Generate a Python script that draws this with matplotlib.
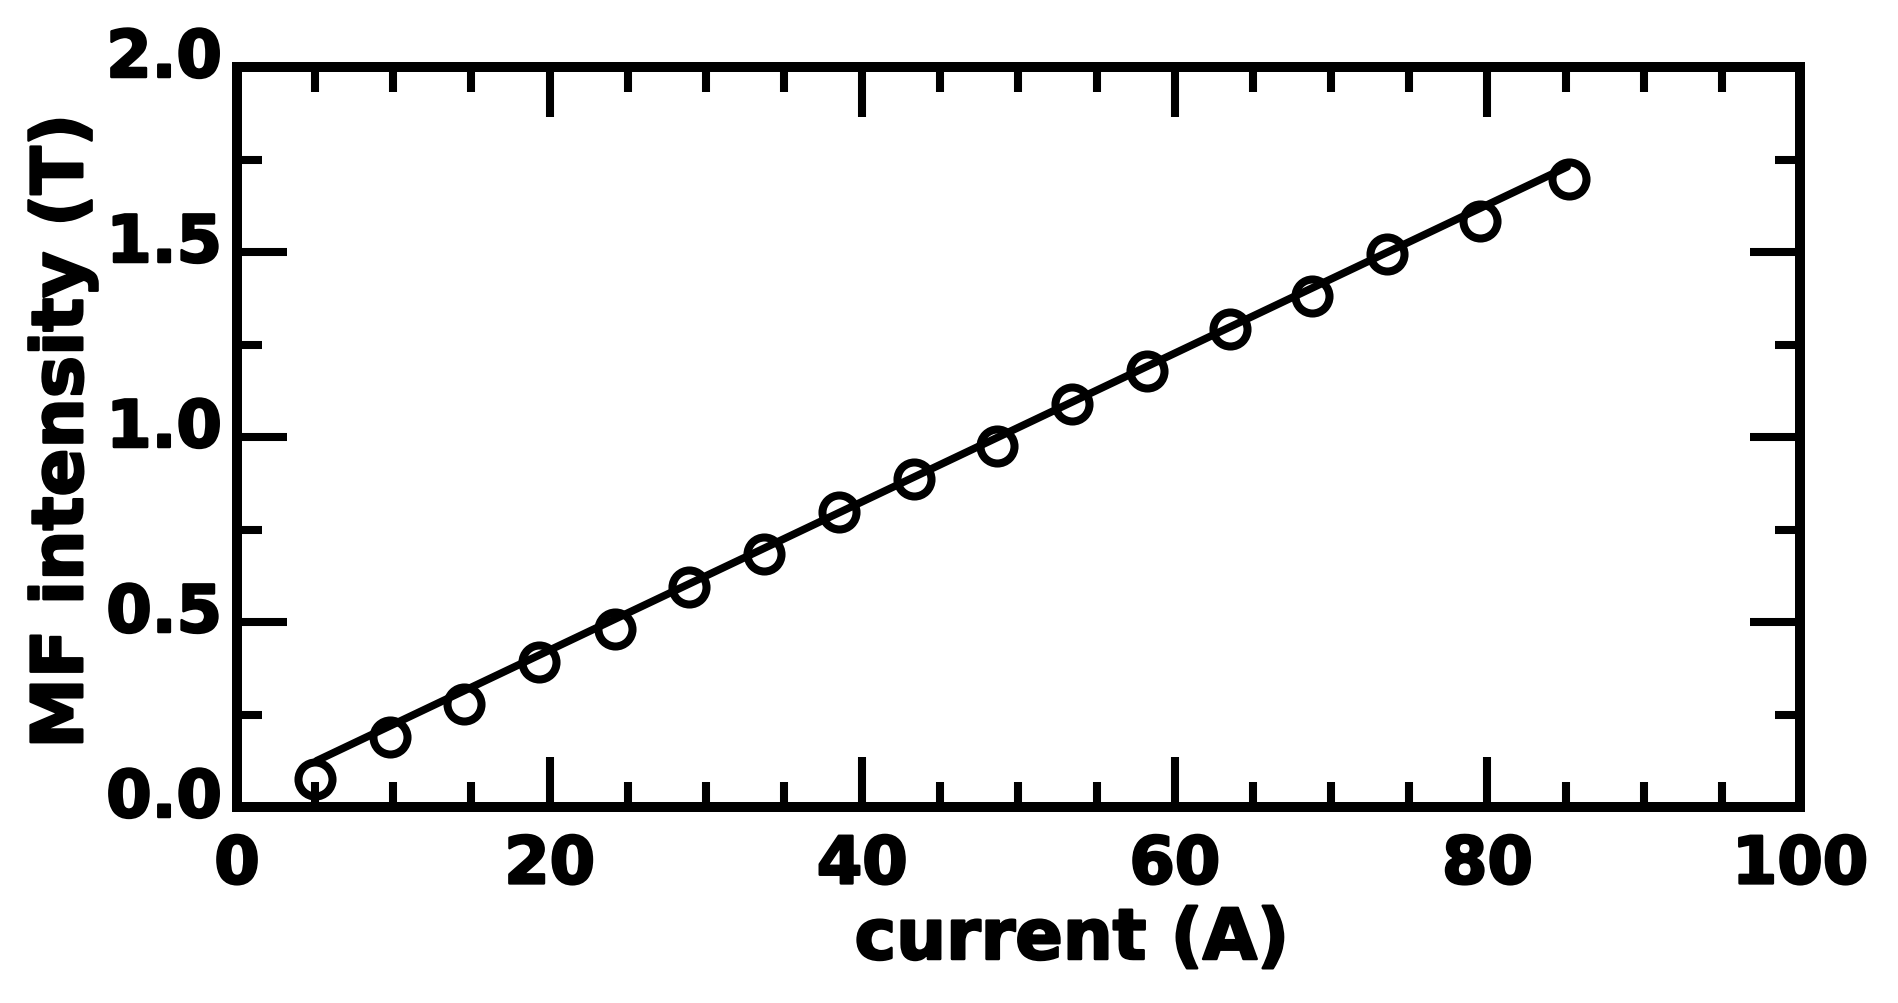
import matplotlib
matplotlib.use("Agg")
import matplotlib.pyplot as plt
import matplotlib.transforms as mtransforms
import matplotlib.patheffects as pe
from matplotlib.ticker import MultipleLocator

# ---- data ----
current_A = [5.0, 9.8, 14.5, 19.3, 24.2, 28.9, 33.7, 38.5, 43.3,
             48.6, 53.4, 58.2, 63.5, 68.8, 73.6, 79.5, 85.2]
mf_T = [0.076, 0.188, 0.278, 0.391, 0.481, 0.594, 0.684, 0.796, 0.886,
        0.977, 1.089, 1.179, 1.292, 1.382, 1.495, 1.585, 1.697]
# fitted line end points
fit_x = [5.1, 85.1]
fit_y = [0.125, 1.73]

x_ticks = [0, 20, 40, 60, 80, 100]
y_ticks = [0.0, 0.5, 1.0, 1.5, 2.0]
y_tick_labels = ["0.0", "0.5", "1.0", "1.5", "2.0"]

plt.rcParams['font.family'] = ['DejaVu Sans']
plt.rcParams['font.weight'] = 'bold'

W, H = 1899, 1004
fig = plt.figure(figsize=(W / 100, H / 100), dpi=100)
ax = fig.add_axes([237 / W, 1 - 808 / H, 1563 / W, 740 / H])

ax.plot(fit_x, fit_y, color='black', lw=5.5, solid_capstyle='round', zorder=2)
ax.plot(current_A, mf_T, linestyle='none', marker='o', ms=24.5,
        mfc='none', mec='black', mew=5.8, zorder=3)

ax.set_xlim(0, 100)
ax.set_ylim(0, 2.0)
ax.set_xticks(x_ticks)
ax.set_yticks(y_ticks)
ax.set_yticklabels(y_tick_labels)
ax.xaxis.set_minor_locator(MultipleLocator(5))
ax.yaxis.set_minor_locator(MultipleLocator(0.25))

for s in ax.spines.values():
    s.set_linewidth(7.2)
    s.set_joinstyle('miter')

ax.tick_params(which='both', direction='in', top=True, right=True,
               width=5.8, color='black')
ax.tick_params(which='major', length=36, labelsize=47)
ax.tick_params(which='minor', length=18)
ax.tick_params(axis='x', which='major', pad=19)
ax.tick_params(axis='y', which='major', pad=11)

heavy = [pe.withStroke(linewidth=1.8, foreground='black')]

for lab in ax.get_xticklabels() + ax.get_yticklabels():
    lab.set_fontweight('bold')
    lab.set_path_effects(heavy)

offset = mtransforms.ScaledTranslation(0, 0.15, fig.dpi_scale_trans)
for lab in ax.get_yticklabels():
    lab.set_transform(lab.get_transform() + offset)

ax.set_xlabel('current (A)', fontsize=50.5, fontweight='bold')
ax.xaxis.set_label_coords(0.534, -0.2054)
ax.xaxis.label.set_va('baseline')
ax.xaxis.label.set_path_effects(heavy)

ax.set_ylabel('MF intensity (T)', fontsize=51, fontweight='bold')
ax.yaxis.set_label_coords(-0.099, 0.508)
ax.yaxis.label.set_va('baseline')
ax.yaxis.label.set_path_effects(heavy)

fig.savefig('out.png', dpi=100, facecolor='white')
